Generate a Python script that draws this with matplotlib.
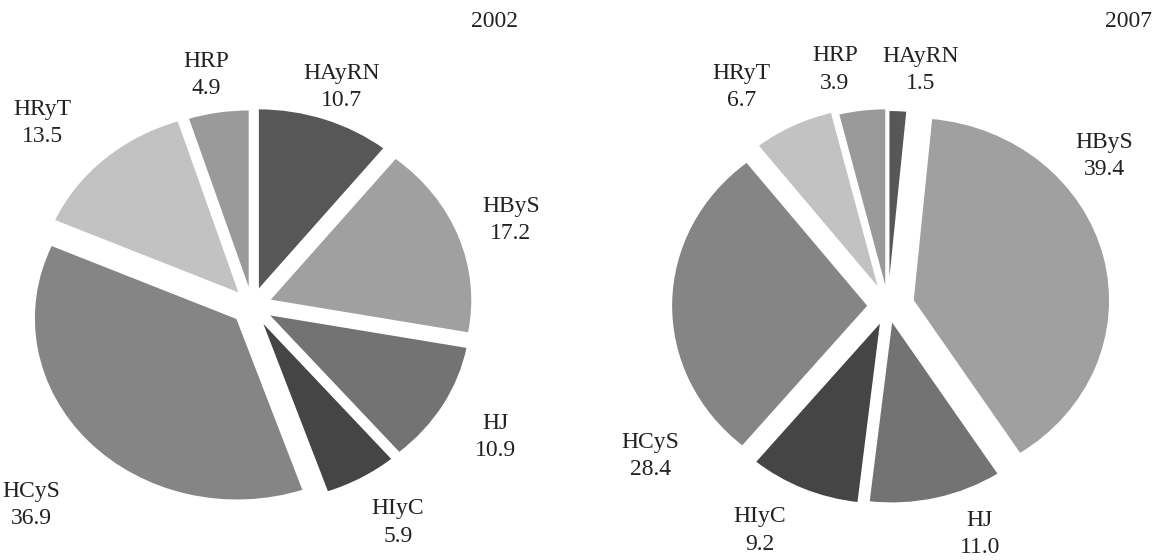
import numpy as np
import matplotlib.pyplot as plt

# data
categories = ["HAyRN", "HByS", "HJ", "HIyC", "HCyS", "HRyT", "HRP"]
values_2002 = [10.7, 17.2, 10.9, 5.9, 36.9, 13.5, 4.9]
values_2007 = [1.5, 39.4, 11.0, 9.2, 28.4, 6.7, 3.9]
years = ["2002", "2007"]

colors = ["#575757", "#a0a0a0", "#737373", "#454545", "#858585", "#c2c2c2", "#9a9a9a"]

plt.rcParams['font.family'] = ['Liberation Serif', 'DejaVu Serif']

W, H = 1154, 560


def make_axes(fig, left_px, width_px, cx, cy, rx, ry):
    # cx, cy: pie centre in pixels inside the axes (cy from top); rx, ry radius in px
    ax = fig.add_axes([left_px / W, 0, width_px / W, 1])
    xlim = (-cx / rx, (width_px - cx) / rx)
    ylim = (-(H - cy) / ry, cy / ry)
    return ax, xlim, ylim


def draw_pie(ax, xlim, ylim, values, explode, label_pos, year, year_x):
    wedges, _ = ax.pie(values, colors=colors, startangle=90, counterclock=False,
                       explode=explode, wedgeprops=dict(edgecolor='white', linewidth=1.2))
    ax.set_aspect('auto')
    ax.set_xlim(*xlim)
    ax.set_ylim(*ylim)
    for name, v, (ang, d) in zip(categories, values, label_pos):
        a = np.deg2rad(ang)
        ax.text(d * np.cos(a), d * np.sin(a), f"{name}\n{v:.1f}",
                ha='center', va='center', fontsize=17, color='#222222',
                linespacing=1.4)
    ax.text(year_x, 0.962, year, transform=ax.transAxes, ha='right', va='center',
            fontsize=17, color='#222222')


fig = plt.figure(figsize=(W / 100, H / 100), dpi=100)

# label placement: (angle in degrees, distance in radii) around the pie centre
labels_2002 = [(69.9, 1.28), (20.4, 1.36), (-30.9, 1.40), (-58.9, 1.39),
               (-134.8, 1.54), (135.8, 1.44), (100, 1.29)]
labels_2007 = [(82.6, 1.30), (36.7, 1.37), (-69.5, 1.33), (-118, 1.39),
               (-145.8, 1.46), (121.9, 1.41), (101.8, 1.32)]

ax1, xl1, yl1 = make_axes(fig, 0, 577, 252, 306, 203, 182)
draw_pie(ax1, xl1, yl1, values_2002,
         [0.09, 0.09, 0.09, 0.09, 0.1, 0.09, 0.08],
         labels_2002, years[0], 0.898)

ax2, xl2, yl2 = make_axes(fig, 577, 577, 311, 306, 197, 183)
draw_pie(ax2, xl2, yl2, values_2007,
         [0.07, 0.13, 0.08, 0.09, 0.1, 0.1, 0.08],
         labels_2007, years[1], 0.9965)

fig.savefig("out.png", dpi=100)
